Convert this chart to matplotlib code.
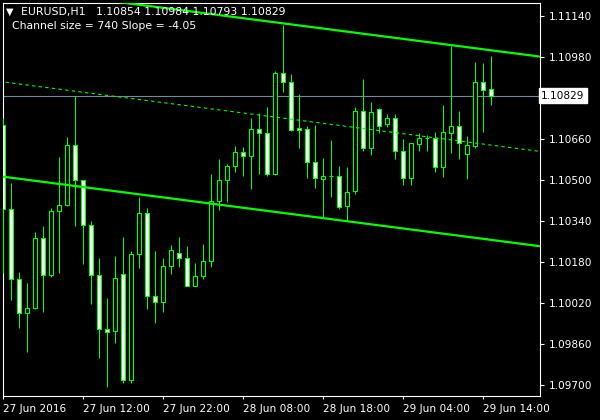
import matplotlib
matplotlib.use('Agg')
import matplotlib.pyplot as plt
from matplotlib.patches import Rectangle
from matplotlib.transforms import blended_transform_factory

# EURUSD H1 bars
opens = [1.10715, 1.10387, 1.10114, 1.09981, 1.10001, 1.10274, 1.10129, 1.10379, 1.10403, 1.10637,
         1.10500, 1.10325, 1.10129, 1.09919, 1.09912, 1.10133, 1.09720, 1.10211, 1.10371, 1.10047,
         1.10024, 1.10165, 1.10215, 1.10196, 1.10087, 1.10126, 1.10184, 1.10418, 1.10500, 1.10555,
         1.10609, 1.10594, 1.10699, 1.10684, 1.10524, 1.10918, 1.10882, 1.10703, 1.10700, 1.10570,
         1.10504, 1.10515, 1.10516, 1.10399, 1.10457, 1.10769, 1.10625, 1.10777, 1.10719, 1.10742,
         1.10613, 1.10508, 1.10641, 1.10664, 1.10664, 1.10551, 1.10684, 1.10711, 1.10602, 1.10633,
         1.10882, 1.10854]
highs = [1.10742, 1.10488, 1.10141, 1.10098, 1.10297, 1.10321, 1.10391, 1.10590, 1.10668, 1.10828,
         1.10500, 1.10340, 1.10196, 1.10040, 1.10204, 1.10278, 1.10223, 1.10434, 1.10391, 1.10223,
         1.10196, 1.10246, 1.10278, 1.10243, 1.10176, 1.10250, 1.10524, 1.10582, 1.10563, 1.10633,
         1.10629, 1.10742, 1.10762, 1.10785, 1.10925, 1.11105, 1.10914, 1.10836, 1.10711, 1.10715,
         1.10586, 1.10656, 1.10555, 1.10551, 1.10785, 1.10894, 1.10804, 1.10781, 1.10758, 1.10758,
         1.10660, 1.10644, 1.10684, 1.10676, 1.10687, 1.10793, 1.11023, 1.10769, 1.10672, 1.10961,
         1.10957, 1.10984]
lows = [1.10137, 1.10032, 1.09923, 1.09829, 1.09997, 1.09985, 1.10122, 1.10137, 1.10399, 1.10321,
        1.10172, 1.10016, 1.09806, 1.09692, 1.09864, 1.09708, 1.09708, 1.10157, 1.09997, 1.09942,
        1.09985, 1.10133, 1.10161, 1.10085, 1.10085, 1.10114, 1.10161, 1.10383, 1.10414, 1.10531,
        1.10516, 1.10465, 1.10524, 1.10516, 1.10520, 1.10843, 1.10691, 1.10625, 1.10508, 1.10469,
        1.10356, 1.10434, 1.10387, 1.10340, 1.10445, 1.10613, 1.10598, 1.10684, 1.10707, 1.10582,
        1.10481, 1.10481, 1.10613, 1.10613, 1.10531, 1.10512, 1.10605, 1.10582, 1.10504, 1.10625,
        1.10687, 1.10793]
closes = [1.10387, 1.10114, 1.09981, 1.10001, 1.10274, 1.10129, 1.10379, 1.10403, 1.10637, 1.10500,
          1.10325, 1.10129, 1.09919, 1.09907, 1.10118, 1.09720, 1.10211, 1.10371, 1.10047, 1.10024,
          1.10165, 1.10227, 1.10196, 1.10087, 1.10126, 1.10184, 1.10418, 1.10500, 1.10555, 1.10609,
          1.10594, 1.10699, 1.10684, 1.10524, 1.10918, 1.10882, 1.10695, 1.10697, 1.10570, 1.10508,
          1.10516, 1.10516, 1.10395, 1.10453, 1.10769, 1.10625, 1.10765, 1.10711, 1.10742, 1.10613,
          1.10508, 1.10644, 1.10664, 1.10665, 1.10551, 1.10687, 1.10711, 1.10644, 1.10637, 1.10882,
          1.10851, 1.10829]

# regression channel end points (bar index -> price)
chan_x = [-1, 68]
chan_upper = [1.11257, 1.10978]
chan_mid = [1.10887, 1.10608]
chan_lower = [1.10517, 1.10238]

last_price = 1.10829
price_ticks = [1.09700, 1.09860, 1.10020, 1.10180, 1.10340, 1.10500, 1.10660, 1.10980, 1.11140]
time_pos = [0, 10, 20, 30, 40, 50, 60]
time_labels = ['27 Jun 2016', '27 Jun 12:00', '27 Jun 22:00', '28 Jun 08:00',
               '28 Jun 18:00', '29 Jun 04:00', '29 Jun 14:00']

green = '#00FF00'
fs = 7.6

fig = plt.figure(figsize=(6, 4.2), dpi=100, facecolor='black')
ax = fig.add_axes([2.5 / 600, 24 / 420, 537.5 / 600, 393.5 / 420])
ax.set_facecolor('black')

w = 0.5
for i in range(len(opens)):
    o, h, l, c = opens[i], highs[i], lows[i], closes[i]
    ax.vlines(i, l, h, color=green, lw=0.75, zorder=3)
    face = 'white' if c < o else 'black'
    ax.add_patch(Rectangle((i - w / 2, min(o, c)), w, max(abs(c - o), 0.000001),
                           facecolor=face, edgecolor=green, lw=0.8, zorder=4))

ax.plot(chan_x, chan_upper, color=green, lw=1.6, zorder=5)
ax.plot(chan_x, chan_lower, color=green, lw=1.6, zorder=5)
ax.plot(chan_x, chan_mid, color=green, lw=0.8, dashes=(3, 3), zorder=5)
ax.axhline(last_price, color='#778899', lw=0.8, zorder=2)

ax.set_xlim(-0.1125, 67.075)
ax.set_ylim(1.09657, 1.11193)

for s in ax.spines.values():
    s.set_color('white')
    s.set_linewidth(0.8)

ax.yaxis.tick_right()
ax.set_yticks(price_ticks)
ax.set_yticklabels(['%.5f' % p for p in price_ticks])
ax.set_xticks(time_pos)
ax.set_xticklabels(time_labels, ha='left')
ax.tick_params(axis='y', colors='white', direction='out', length=3, width=0.8, pad=3.5, labelsize=fs)
ax.tick_params(axis='x', colors='white', direction='out', length=2.5, width=0.8, pad=3.5, labelsize=fs)

tr = blended_transform_factory(ax.transAxes, ax.transData)
ax.text(1.0025, last_price, '%.5f' % last_price, transform=tr, color='black', fontsize=fs,
        va='center', ha='left',
        bbox=dict(facecolor='white', edgecolor='white', boxstyle='square,pad=0.25'))

fig.text(6 / 600, 1 - 12 / 420, '\u25bc', color='white', fontsize=7, va='center')
fig.text(21 / 600, 1 - 12 / 420, 'EURUSD,H1   1.10854 1.10984 1.10793 1.10829',
         color='white', fontsize=7.8, va='center')
fig.text(12 / 600, 1 - 26 / 420, 'Channel size = 740 Slope = -4.05',
         color='white', fontsize=7.8, va='center')

fig.savefig('out.png', dpi=100, facecolor='black')
